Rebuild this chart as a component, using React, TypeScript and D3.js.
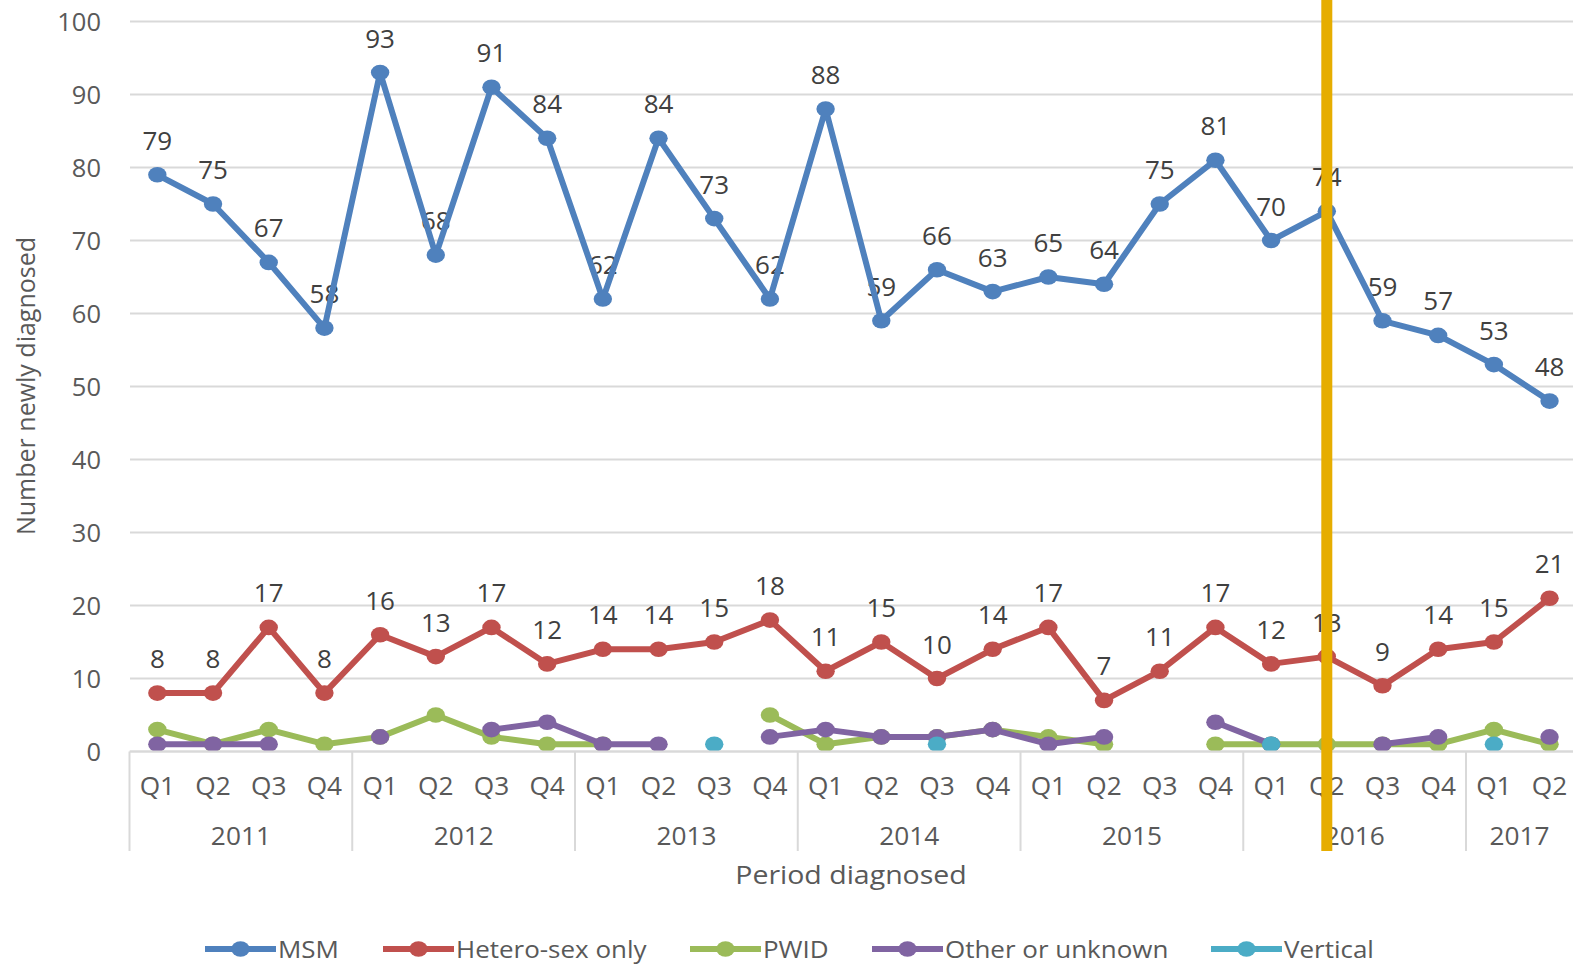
import React from 'react';
import * as d3 from 'd3';

// Period diagnosed: quarters grouped by year
const years = ['2011', '2012', '2013', '2014', '2015', '2016', '2017'];
const quartersInYear = [4, 4, 4, 4, 4, 4, 2];
const quarterNames = ['Q1', 'Q2', 'Q3', 'Q4'];

// Series values, one per quarter (null = no point)
const msm = [79, 75, 67, 58, 93, 68, 91, 84, 62, 84, 73, 62, 88, 59, 66, 63, 65, 64, 75, 81, 70, 74, 59, 57, 53, 48];
const hetero = [8, 8, 17, 8, 16, 13, 17, 12, 14, 14, 15, 18, 11, 15, 10, 14, 17, 7, 11, 17, 12, 13, 9, 14, 15, 21];
const pwid = [3, 1, 3, 1, 2, 5, 2, 1, 1, null, null, 5, 1, 2, 2, 3, 2, 1, null, 1, 1, 1, 1, 1, 3, 1];
const other = [1, 1, 1, null, 2, null, 3, 4, 1, 1, null, 2, 3, 2, 2, 3, 1, 2, null, 4, 1, null, 1, 2, null, 2];
const vertical = [null, null, null, null, null, null, null, null, null, null, 1, null, null, null, 1, null, null, null, null, null, 1, null, null, null, 1, null];

const yTicks = [0, 10, 20, 30, 40, 50, 60, 70, 80, 90, 100];
const markerPeriod = '2016 Q2';

const W = 1573;
const H = 965;
const font = '"Open Sans", sans-serif';
const textColor = '#595959';

const periods: { key: string; year: string; q: string }[] = [];
years.forEach((y, i) => {
  for (let k = 0; k < quartersInYear[i]; k++) periods.push({ key: `${y} ${quarterNames[k]}`, year: y, q: quarterNames[k] });
});

const series = [
  { name: 'MSM', values: msm, color: '#4F81BD', labels: true },
  { name: 'Hetero-sex only', values: hetero, color: '#C0504D', labels: true },
  { name: 'PWID', values: pwid, color: '#9BBB59', labels: false },
  { name: 'Other or unknown', values: other, color: '#8064A2', labels: false },
  { name: 'Vertical', values: vertical, color: '#4BACC6', labels: false },
];

const legendX = [205, 383, 690, 872, 1211];

// text slightly stretched horizontally, like the source export
const T = ({ x, y, sx = 1.05, size = 25, anchor = 'middle', fill = textColor, children }: any) => (
  <text transform={`translate(${x},${y}) scale(${sx},1)`} textAnchor={anchor} fontSize={size} fill={fill}>{children}</text>
);

export default function App() {
  const x = d3.scaleBand().domain(periods.map(p => p.key)).range([129.5, 1577.4]).paddingInner(0).paddingOuter(0);
  const y = d3.scaleLinear().domain([0, 100]).range([751.5, 21.5]);
  const bw = x.bandwidth();
  const cx = (i: number) => (x(periods[i].key) as number) + bw / 2;

  const line = d3.line<number | null>()
    .defined(d => d != null)
    .x((_, i) => cx(i))
    .y(d => y(d as number));

  // year group boundaries
  const bounds: number[] = [x(periods[0].key) as number];
  let idx = 0;
  quartersInYear.forEach(n => {
    idx += n;
    bounds.push(idx < periods.length ? (x(periods[idx].key) as number) : (x(periods[periods.length - 1].key) as number) + bw);
  });

  const markerX = (x(markerPeriod) as number) + bw / 2;

  return (
    <svg width={W} height={H} style={{ position: 'absolute', left: 0, top: 0, background: '#fff' }} fontFamily={font}>
      {/* grid */}
      {yTicks.map(t => (
        <line key={t} x1={130} x2={W} y1={y(t)} y2={y(t)} stroke="#d9d9d9" strokeWidth={2} />
      ))}
      {yTicks.map(t => (
        <T key={'l' + t} x={101} y={y(t) + 9} anchor="end" sx={1.02}>{t}</T>
      ))}
      <text transform={`translate(35,386) rotate(-90)`} textAnchor="middle" fontSize={25} fill={textColor}>Number newly diagnosed</text>

      {/* category axis */}
      {bounds.map((b, i) => (
        <line key={'b' + i} x1={b} x2={b} y1={y(0)} y2={851} stroke="#d9d9d9" strokeWidth={2} />
      ))}
      {periods.map((p, i) => (
        <T key={'q' + i} x={cx(i)} y={795}>{p.q}</T>
      ))}
      {years.map((yr, i) => (
        <T key={'y' + yr} x={(bounds[i] + Math.min(bounds[i + 1], W)) / 2} y={845}>{yr}</T>
      ))}
      <T x={851} y={884} sx={1.14}>Period diagnosed</T>

      {/* data labels */}
      {series.filter(s => s.labels).map(s => (
        <g key={'dl' + s.name}>
          {s.values.map((v, i) => v == null ? null : (
            <T key={i} x={cx(i)} y={y(v) - 25} sx={1.04} fill="#404040">{v}</T>
          ))}
        </g>
      ))}

      {/* series */}
      {series.map(s => (
        <g key={s.name}>
          <path d={line(s.values) || ''} fill="none" stroke={s.color} strokeWidth={6} strokeLinejoin="round" />
          {s.values.map((v, i) => v == null ? null : (
            <ellipse key={i} cx={cx(i)} cy={y(v)} rx={9.2} ry={7.8} fill={s.color} />
          ))}
        </g>
      ))}

      {/* x axis line */}
      <line x1={129.5} x2={W} y1={y(0)} y2={y(0)} stroke="#d9d9d9" strokeWidth={2} />

      {/* vertical marker */}
      <line x1={markerX} x2={markerX} y1={0} y2={851} stroke="#E6AD00" strokeWidth={11} />

      {/* legend */}
      {series.map((s, i) => (
        <g key={'lg' + s.name} transform={`translate(${legendX[i]},949)`}>
          <line x1={0} x2={71} y1={0} y2={0} stroke={s.color} strokeWidth={6} />
          <ellipse cx={35.5} cy={0} rx={9.2} ry={7.8} fill={s.color} />
          <T x={73} y={8.5} anchor="start" sx={1.06} size={24.5}>{s.name}</T>
        </g>
      ))}
    </svg>
  );
}
